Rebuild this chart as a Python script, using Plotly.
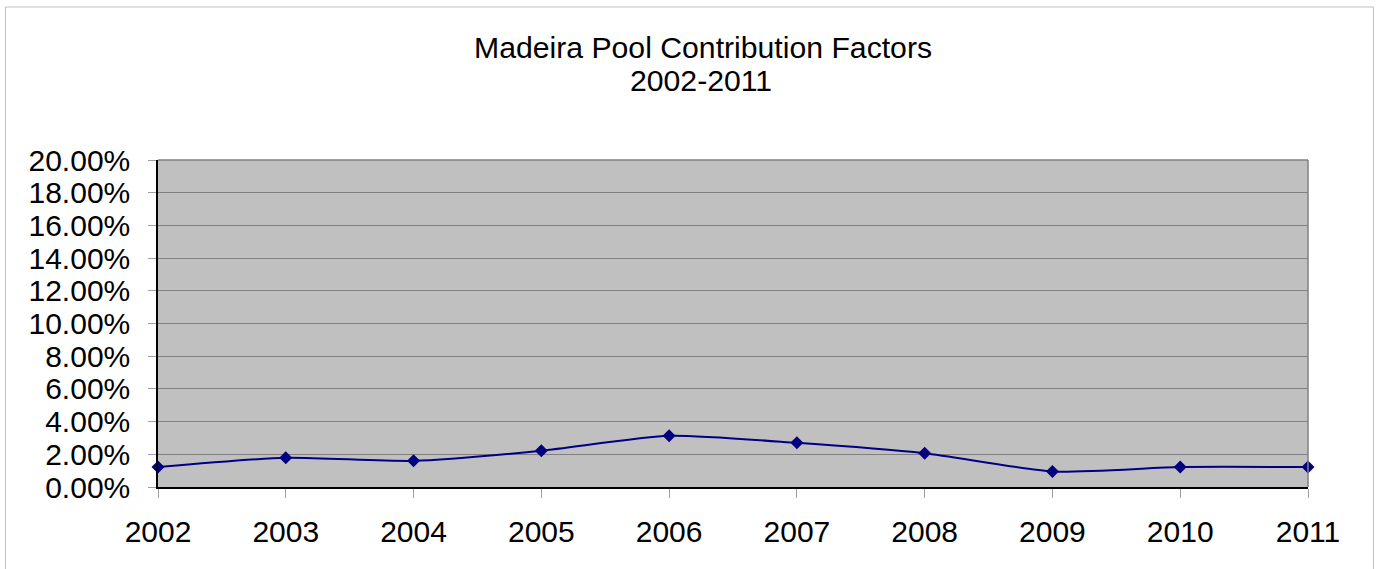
import plotly.graph_objects as go

years = [2002, 2003, 2004, 2005, 2006, 2007, 2008, 2009, 2010, 2011]
factors = [0.0122, 0.0179, 0.0160, 0.0222, 0.0313, 0.0270, 0.0206, 0.0095, 0.0122, 0.0122]
y_ticks = [i * 0.02 for i in range(11)]
title_line1 = "Madeira Pool Contribution Factors"
title_line2 = "2002-2011"

W, H = 1379, 569
# plot area in page pixels
L, R, T, B = 158, 1308, 160, 487


def px_x(p):
    return (p - L) / (R - L)


def px_y(p):
    return (B - p) / (B - T)


font_family = "Liberation Sans, Arial, sans-serif"

fig = go.Figure()
fig.add_trace(go.Scatter(
    x=years, y=factors, mode="lines+markers",
    line=dict(color="#000080", width=2, shape="spline", smoothing=0.6),
    marker=dict(symbol="diamond", size=10, color="#000080"),
    cliponaxis=False, showlegend=False, hoverinfo="skip",
))

fig.update_layout(
    width=W, height=H,
    margin=dict(l=L, r=W - R, t=T, b=H - B, autoexpand=False),
    paper_bgcolor="white", plot_bgcolor="#C0C0C0",
    font=dict(family=font_family, color="black"),
    xaxis=dict(
        range=[2002, 2011], tickmode="array", tickvals=years,
        ticktext=[str(y) for y in years],
        showgrid=False, zeroline=False,
        showline=True, linecolor="black", linewidth=1.5,
        ticks="outside", ticklen=9, tickcolor="#A0A0A0", tickwidth=1,
        tickfont=dict(size=30, family=font_family),
        ticklabelstandoff=8,
    ),
    yaxis=dict(
        range=[0, 0.20], tickmode="array", tickvals=y_ticks,
        ticktext=[f"{v*100:.2f}%" for v in y_ticks],
        showgrid=True, gridcolor="#808080", gridwidth=1, zeroline=False,
        showline=True, linecolor="black", linewidth=1.5,
        ticks="outside", ticklen=8, tickcolor="#A0A0A0", tickwidth=1,
        tickfont=dict(size=30, family=font_family),
        ticklabelstandoff=12,
    ),
    shapes=[
        # plot area right & top border
        dict(type="line", xref="paper", yref="paper", x0=1, x1=1, y0=0, y1=1,
             line=dict(color="#808080", width=1.5)),
        dict(type="line", xref="paper", yref="paper", x0=0, x1=1, y0=1, y1=1,
             line=dict(color="#808080", width=1.5)),
        # outer chart border (left, top, right)
        dict(type="line", xref="paper", yref="paper", x0=px_x(5.5), x1=px_x(5.5),
             y0=px_y(7), y1=px_y(600), line=dict(color="#C0C0C0", width=1)),
        dict(type="line", xref="paper", yref="paper", x0=px_x(5.5), x1=px_x(1373.5),
             y0=px_y(7), y1=px_y(7), line=dict(color="#C0C0C0", width=1)),
        dict(type="line", xref="paper", yref="paper", x0=px_x(1373.5), x1=px_x(1373.5),
             y0=px_y(7), y1=px_y(600), line=dict(color="#C0C0C0", width=1)),
    ],
    annotations=[
        dict(text=title_line1, xref="paper", yref="paper", x=px_x(703), y=px_y(47),
             xanchor="center", yanchor="middle", showarrow=False,
             font=dict(size=30.2, family=font_family, color="black")),
        dict(text=title_line2, xref="paper", yref="paper", x=px_x(701), y=px_y(80),
             xanchor="center", yanchor="middle", showarrow=False,
             font=dict(size=30.2, family=font_family, color="black")),
    ],
)

fig.write_html("out.html", config={"displayModeBar": False},
               post_script="document.body.style.margin='0px';")
